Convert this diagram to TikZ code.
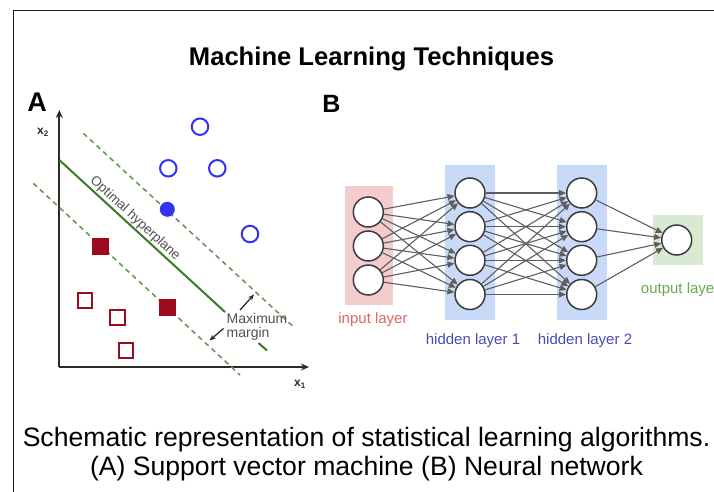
\documentclass[tikz,border=0pt]{standalone}
\usepackage{fontspec}
\setmainfont{Liberation Sans}
\usetikzlibrary{arrows.meta}
\definecolor{frameC}{HTML}{1A1A1A}
\definecolor{axisC}{HTML}{2A2A2A}
\definecolor{blueC}{HTML}{3434F0}
\definecolor{redC}{HTML}{9B0A1E}
\definecolor{solidG}{HTML}{3A7A28}
\definecolor{dashG}{HTML}{6A9A50}
\definecolor{labelG}{HTML}{505050}
\definecolor{pinkC}{HTML}{F4CCCC}
\definecolor{blueBox}{HTML}{C9DAF8}
\definecolor{greenBox}{HTML}{D9EAD3}
\definecolor{inTxt}{HTML}{E06666}
\definecolor{hidTxt}{HTML}{4A4AB4}
\definecolor{outTxt}{HTML}{6AA84F}
\definecolor{netLine}{HTML}{5E5E5E}
\definecolor{neuronC}{HTML}{3C3C3C}
\tikzset{
  opencirc/.style={circle,draw=blueC,line width=2pt,fill=white,minimum size=16.5pt,inner sep=0pt},
  fullcirc/.style={circle,fill=blueC,minimum size=15pt,inner sep=0pt},
  opensq/.style={rectangle,draw=redC,line width=2pt,fill=white,minimum size=14.5pt,inner sep=0pt},
  fullsq/.style={rectangle,fill=redC,minimum size=17pt,inner sep=0pt},
  axisline/.style={draw=axisC,line width=2pt,-{Stealth[length=8pt,width=7pt]}},
  marginline/.style={draw=dashG,line width=1.6pt,dash pattern=on 5pt off 4pt},
  neuron/.style={circle,draw=neuronC,line width=1.5pt,fill=white,minimum size=30pt,inner sep=0pt},
  layerbox/.style={rectangle,inner sep=0pt,draw=none},
  wire/.style={draw=netLine,line width=1.1pt,-{Triangle[length=7pt,width=6pt]}},
  smallarrow/.style={draw=axisC,line width=1.3pt,-{Stealth[length=6pt,width=5pt]}},
  nnlabel/.style={font=\fontsize{15}{18}\selectfont,anchor=base,inner sep=0pt},
}
\begin{document}
\begin{tikzpicture}[x=1pt,y=-1pt]
\useasboundingbox (0,0) rectangle (714,492);
\clip (0,0) rectangle (714,492);
% frame
\draw[frameC,line width=1.6pt] (13.5,500) -- (13.5,10.5) -- (720,10.5);
% title
\node[font=\bfseries\fontsize{25.6}{30}\selectfont,anchor=base,inner sep=0pt] (title) at (371.5,66) {Machine Learning Techniques};
% caption
\node[font=\fontsize{26.6}{30}\selectfont,anchor=base,inner sep=0pt] (cap1) at (366.5,446) {Schematic representation of statistical learning algorithms.};
\node[font=\fontsize{26.6}{30}\selectfont,anchor=base,inner sep=0pt] (cap2) at (366.5,475) {(A) Support vector machine (B) Neural network};
% panel labels
\node[font=\bfseries\fontsize{27}{30}\selectfont,anchor=base,inner sep=0pt] (labA) at (37,112) {A};
\node[font=\bfseries\fontsize{25}{30}\selectfont,anchor=base,inner sep=0pt] (labB) at (331.5,113) {B};

% ---------- Panel A: SVM ----------
\coordinate (O) at (59.3,367);
\coordinate (ytip) at (59.3,110);
\coordinate (xtip) at (309,367);
\draw[axisline] (O) -- (ytip);
\draw[axisline] (O) -- (xtip);
\node[font=\bfseries\fontsize{12}{14}\selectfont,text=axisC,inner sep=0pt] (x2) at (43,132) {x\textsubscript{2}};
\node[font=\bfseries\fontsize{12}{14}\selectfont,text=axisC,inner sep=0pt] (x1) at (300,384) {x\textsubscript{1}};

% margins
\coordinate (u1) at (83.3,133.3);
\coordinate (u2) at (293.3,326.7);
\coordinate (l1) at (33.3,183.3);
\coordinate (l2) at (240,375);
\draw[marginline] (u1) -- (u2);
\draw[marginline] (l1) -- (l2);
% hyperplane (interrupted by the label)
\coordinate (h1) at (59.3,160);
\coordinate (h2) at (225,312);
\coordinate (h3) at (258.5,343);
\coordinate (h4) at (267,350.5);
\draw[solidG,line width=2pt] (h1) -- (h2);
\draw[solidG,line width=2pt] (h3) -- (h4);
\node[font=\fontsize{13.5}{15}\selectfont,text=labelG,rotate=-42.6,inner sep=0pt] (hyp) at (135,218.5) {Optimal hyperplane};

% points
\node[opencirc] (c1) at (200,126.7) {};
\node[opencirc] (c2) at (168.3,168.3) {};
\node[opencirc] (c3) at (217.3,168.3) {};
\node[opencirc] (c4) at (250,234) {};
\node[fullcirc] (c5) at (167.3,209.3) {};
\node[fullsq] (s1) at (100.7,246) {};
\node[fullsq] (s2) at (167.7,307.7) {};
\node[opensq] (s3) at (85,300.7) {};
\node[opensq] (s4) at (117.3,317.3) {};
\node[opensq] (s5) at (126,350.7) {};

% maximum margin
\node[font=\fontsize{14}{16}\selectfont,text=labelG,anchor=base west,inner sep=0pt] (mm1) at (226.5,323) {Maximum};
\node[font=\fontsize{14}{16}\selectfont,text=labelG,anchor=base west,inner sep=0pt] (mm2) at (226.5,337.5) {margin};
\coordinate (a1s) at (240,310);
\coordinate (a1e) at (254,294.5);
\coordinate (a2s) at (223.5,328.5);
\coordinate (a2e) at (209.5,340.5);
\draw[smallarrow] (a1s) -- (a1e);
\draw[smallarrow] (a2s) -- (a2e);

% ---------- Panel B: neural network ----------
\node[layerbox,fill=pinkC,minimum width=48.3pt,minimum height=119pt] (inbox) at (369.2,245.5) {};
\node[layerbox,fill=blueBox,minimum width=50pt,minimum height=155pt] (hbox1) at (470,242.5) {};
\node[layerbox,fill=blueBox,minimum width=50pt,minimum height=155pt] (hbox2) at (581.7,242.5) {};
\node[layerbox,fill=greenBox,minimum width=50pt,minimum height=50pt] (outbox) at (678.3,240) {};

\foreach \i/\y in {1/212,2/246,3/280}
  \node[neuron] (in\i) at (368.3,\y) {};
\foreach \i/\y in {1/193,2/226.7,3/260.3,4/294.5}{
  \node[neuron] (ha\i) at (470,\y) {};
  \node[neuron] (hb\i) at (581.7,\y) {};
}
\node[neuron] (out) at (676.7,240) {};

\foreach \i in {1,2,3}
  \foreach \j in {1,2,3,4}
    \draw[wire] (in\i) -- (ha\j);
\foreach \i in {1,2,3,4}
  \foreach \j in {1,2,3,4}
    \draw[wire] (ha\i) -- (hb\j);
\foreach \i in {1,2,3,4}
  \draw[wire] (hb\i) -- (out);

\node[nnlabel,text=inTxt] (inl) at (373,323.5) {input layer};
\node[nnlabel,text=hidTxt] (hl1) at (473,344.5) {hidden layer 1};
\node[nnlabel,text=hidTxt] (hl2) at (585,344.5) {hidden layer 2};
\node[nnlabel,text=outTxt,anchor=base west] (outl) at (640.7,293) {output laye};
\end{tikzpicture}
\end{document}
